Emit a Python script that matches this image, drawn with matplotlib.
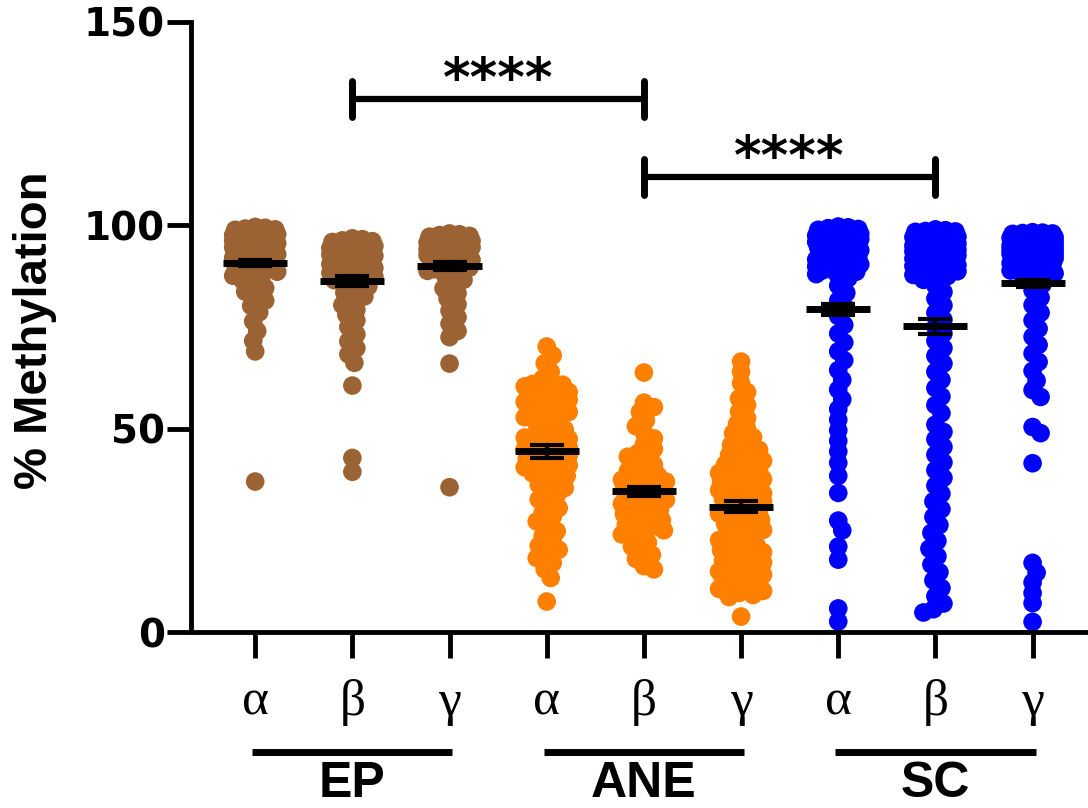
import numpy as np
import matplotlib.pyplot as plt

# % methylation values (one value per dot)
ep_alpha = [99.6, 99.4, 99.2, 99.0, 98.9, 98.7, 98.5, 98.3, 98.2, 98.0,
            97.8, 97.6, 97.5, 97.3, 97.1, 96.9, 96.7, 96.5, 96.4, 96.2,
            96.0, 95.8, 95.6, 95.4, 95.2, 95.0, 94.8, 94.6, 94.3, 94.1,
            93.9, 93.6, 93.4, 93.1, 92.9, 92.6, 92.3, 92.0, 91.7, 91.4,
            91.1, 90.8, 90.5, 90.2, 89.8, 89.4, 89.0, 88.6, 88.1, 87.6,
            87.0, 86.3, 85.5, 84.6, 83.7, 82.6, 81.5, 80.2, 78.6, 76.4,
            74.0, 71.6, 69.0, 37.0]
ep_beta = [96.8, 96.6, 96.3, 96.1, 95.9, 95.6, 95.4, 95.1, 94.9, 94.6,
           94.4, 94.1, 93.9, 93.6, 93.3, 93.0, 92.8, 92.5, 92.2, 91.9,
           91.6, 91.3, 91.0, 90.7, 90.4, 90.1, 89.8, 89.5, 89.2, 88.9,
           88.6, 88.3, 88.0, 87.7, 87.4, 87.0, 95.2, 93.5, 92.0, 90.5,
           89.0, 94.0, 86.5, 85.8, 85.0, 84.2, 83.4, 82.5, 81.5, 80.4,
           79.2, 78.0, 76.6, 75.0, 73.2, 71.5, 69.8, 68.3, 66.2, 60.6,
           42.8, 39.4]
ep_gamma = [98.0, 97.8, 97.6, 97.4, 97.2, 97.0, 96.8, 96.6, 96.4, 96.2,
            96.0, 95.8, 95.5, 95.3, 95.1, 94.8, 94.6, 94.3, 94.1, 93.8,
            93.6, 93.3, 93.0, 92.7, 92.4, 92.1, 91.8, 91.5, 91.2, 90.9,
            90.6, 90.3, 90.0, 89.6, 89.2, 88.8, 96.9, 95.9, 94.5, 92.9,
            88.3, 87.5, 86.6, 85.6, 84.5, 83.3, 82.0, 80.6, 79.0, 77.4,
            75.8, 74.0, 72.5, 66.0, 35.6]
ane_alpha = [70.2, 68.0, 66.1, 64.0, 62.3, 61.5, 61.0, 60.4, 60.0, 59.5,
             59.0, 58.6, 58.1, 57.6, 57.1, 56.6, 56.1, 55.6, 55.1, 54.6,
             54.1, 53.5, 52.8, 52.0, 51.3, 50.5, 49.8, 49.1, 48.5, 48.0,
             47.5, 47.0, 46.6, 46.2, 45.8, 45.4, 45.0, 44.6, 44.2, 43.8,
             43.4, 43.0, 42.6, 42.2, 41.8, 41.4, 41.0, 40.5, 40.0, 39.5,
             39.0, 38.4, 37.8, 37.0, 36.2, 35.4, 34.5, 33.6, 32.6, 31.6,
             30.5, 29.4, 28.3, 27.2, 26.0, 24.8, 23.6, 22.4, 21.2, 20.2,
             19.2, 18.2, 17.0, 15.4, 13.3, 7.5, 60.8, 58.9, 56.3, 54.9,
             47.8, 46.9, 45.2, 57.8, 55.8]
ane_beta = [63.8, 56.4, 55.3, 54.1, 52.0, 50.6, 49.0, 47.6, 46.1, 45.0,
            44.0, 43.1, 42.0, 41.1, 40.0, 39.6, 39.0, 38.5, 38.0, 37.4,
            37.0, 36.5, 36.0, 35.4, 35.0, 34.5, 34.0, 33.5, 33.0, 32.5,
            32.0, 31.5, 31.0, 30.5, 30.0, 29.5, 29.0, 28.4, 28.0, 27.5,
            27.0, 26.4, 26.0, 25.5, 25.0, 24.5, 24.0, 23.0, 22.0, 21.0,
            20.0, 19.0, 18.0, 16.2, 15.4]
ane_gamma = [66.5, 64.0, 61.2, 59.0, 57.4, 55.8, 54.2, 52.6, 51.2, 50.0,
             48.9, 47.9, 46.9, 46.0, 45.1, 44.3, 43.5, 42.8, 42.1, 41.5,
             40.9, 40.3, 39.7, 39.1, 38.6, 38.1, 37.6, 37.1, 36.6, 36.1,
             35.6, 35.1, 34.6, 34.1, 33.6, 33.1, 32.6, 32.1, 31.6, 31.1,
             30.6, 30.1, 29.6, 29.1, 28.6, 28.1, 27.6, 27.1, 26.6, 26.1,
             25.6, 25.1, 24.6, 24.1, 23.6, 23.1, 22.6, 22.1, 21.6, 21.1,
             20.6, 20.1, 19.6, 19.1, 18.6, 18.1, 17.6, 17.1, 16.6, 16.1,
             15.6, 15.1, 14.6, 14.1, 13.6, 13.1, 12.6, 12.1, 11.6, 11.1,
             10.6, 10.1, 9.6, 9.1, 8.6, 3.8, 44.8, 41.2, 38.9, 36.9,
             34.9, 32.9, 19.9, 14.9, 12.9]
sc_alpha = [99.7, 99.5, 99.3, 99.1, 98.9, 98.7, 98.5, 98.3, 98.1, 97.9,
            97.7, 97.5, 97.3, 97.1, 96.9, 96.6, 96.4, 96.2, 95.9, 95.7,
            95.5, 95.2, 95.0, 94.7, 94.5, 94.2, 93.9, 93.7, 93.4, 93.1,
            92.8, 92.5, 92.2, 91.9, 91.6, 91.3, 91.0, 90.7, 90.4, 90.1,
            89.8, 89.5, 89.2, 88.9, 88.6, 88.3, 88.0, 98.6, 97.0, 95.3,
            93.2, 91.5, 89.9, 87.0, 85.2, 83.4, 81.5, 79.6, 77.7, 75.5,
            73.4, 71.2, 69.0, 66.8, 64.4, 62.0, 59.6, 57.2, 54.8, 52.2,
            49.6, 47.0, 44.4, 41.6, 38.4, 34.2, 27.4, 25.0, 21.0, 17.8,
            5.8, 2.6]
sc_beta = [99.0, 98.8, 98.6, 98.4, 98.2, 98.0, 97.8, 97.6, 97.4, 97.2,
           97.0, 96.8, 96.6, 96.4, 96.2, 96.0, 95.8, 95.6, 95.4, 95.2,
           95.0, 94.8, 94.6, 94.4, 94.2, 94.0, 93.8, 93.6, 93.4, 93.2,
           93.0, 92.8, 92.6, 92.4, 92.2, 92.0, 91.8, 91.6, 91.4, 91.2,
           91.0, 90.8, 90.6, 90.4, 90.2, 90.0, 89.8, 89.6, 89.3, 89.0,
           88.7, 88.4, 88.1, 87.8, 87.5, 98.5, 97.9, 97.1, 96.3, 95.5,
           94.7, 93.9, 93.1, 92.3, 91.5, 90.7, 89.9, 98.1, 96.9, 95.1,
           86.6, 85.2, 83.6, 82.0, 80.3, 78.5, 76.8, 75.0, 73.4, 71.6,
           69.8, 67.9, 66.0, 64.0, 62.0, 60.0, 57.9, 55.8, 53.8, 51.0,
           49.2, 47.4, 45.5, 43.6, 41.7, 39.8, 37.9, 36.0, 34.0, 32.1,
           30.2, 28.3, 26.3, 24.4, 22.4, 20.5, 18.6, 16.6, 14.7, 12.7,
           10.8, 8.8, 7.0, 5.6, 4.8]
sc_gamma = [98.3, 98.1, 97.9, 97.7, 97.5, 97.3, 97.1, 96.9, 96.7, 96.5,
            96.3, 96.1, 95.9, 95.7, 95.5, 95.3, 95.1, 94.9, 94.7, 94.5,
            94.3, 94.1, 93.9, 93.7, 93.5, 93.3, 93.1, 92.9, 92.7, 92.5,
            92.3, 92.1, 91.9, 91.6, 91.3, 91.0, 90.7, 90.4, 90.1, 89.7,
            89.3, 88.9, 88.5, 98.2, 97.8, 97.4, 97.0, 96.6, 96.2, 95.8,
            95.4, 95.0, 94.6, 94.2, 93.8, 93.4, 93.0, 92.6, 92.2, 91.8,
            98.0, 97.6, 97.2, 96.8, 96.4, 96.0, 95.6, 95.2, 94.8, 94.4,
            94.0, 93.6, 93.2, 92.8, 92.4, 92.0, 97.3, 96.3, 95.3, 94.3,
            93.3, 92.3, 91.4, 90.5, 89.5, 88.2, 87.5, 86.8, 85.5, 84.0,
            82.2, 80.4, 78.5, 76.6, 74.6, 72.6, 70.6, 68.5, 66.4, 64.2,
            61.8, 59.5, 57.8, 50.4, 48.9, 41.5, 17.0, 14.6, 12.2, 9.6,
            7.1, 2.5]

groups = [ep_alpha, ep_beta, ep_gamma, ane_alpha, ane_beta, ane_gamma,
          sc_alpha, sc_beta, sc_gamma]
# mean and SEM as drawn in the figure
group_means = [90.8, 86.3, 90.0, 44.5, 34.6, 30.8, 79.4, 75.2, 85.7]
group_sems = [0.7, 1.2, 1.0, 1.6, 1.15, 1.35, 1.35, 1.85, 0.9]
subunits = ['α', 'β', 'γ'] * 3
tissues = ['EP', 'ANE', 'SC']
tissue_colors = ['#9b6333', '#ff8000', '#0000ff']
sig_pairs = [(1, 4), (4, 7)]   # compared groups (index into groups)
sig_levels = [131.1, 111.9]
sig_labels = ['****', '****']

fig = plt.figure(figsize=(10.88, 8.08), dpi=100)
ax = fig.add_axes([0.1756, 0.2178, 0.8226, 0.755])
ax.set_xlim(-0.66, 8.55)
ax.set_ylim(0, 150)

# pixel size of one data unit, used for the dot layout
p0 = ax.transData.transform((0, 0))
p1 = ax.transData.transform((1, 1))
px_x, px_y = p1[0] - p0[0], p1[1] - p0[1]


def swarm_offsets(vals, sep=10.0, maxoff=23.0, step=2.0):
    # greedy beeswarm in pixel space, dots allowed to overlap (Prism style)
    vals = np.asarray(vals, float)
    cands = [0.0]
    k = step
    while k <= maxoff:
        cands += [k, -k]
        k += step
    placed = []
    offs = np.zeros(len(vals))
    for i in np.argsort(-vals):
        y = vals[i] * px_y
        best, bestd = 0.0, -1.0
        for c in cands:
            if placed:
                p = np.array(placed)
                d = np.min(np.hypot(p[:, 0] - c, p[:, 1] - y))
            else:
                d = np.inf
            if d >= sep:
                best = c
                break
            if d > bestd:
                best, bestd = c, d
        placed.append((best, y))
        offs[i] = best / px_x
    return offs


for i, vals in enumerate(groups):
    vals = np.asarray(vals, float)
    xs = i + swarm_offsets(vals)
    ax.scatter(xs, vals, s=180, color=tissue_colors[i // 3], edgecolors='none', zorder=2)
    m, sem = group_means[i], group_sems[i]
    ax.plot([i - 0.33, i + 0.33], [m, m], color='black', lw=5,
            solid_capstyle='butt', zorder=4)
    ax.errorbar(i, m, yerr=sem, fmt='none', ecolor='black', elinewidth=3,
                capsize=12.5, capthick=3, zorder=4)

# significance brackets
for (a, b), h, lab in zip(sig_pairs, sig_levels, sig_labels):
    ax.plot([a, b], [h, h], color='black', lw=4.5, solid_capstyle='butt', clip_on=False)
    for xe in (a, b):
        ax.plot([xe, xe], [h - 4.4, h + 4.4], color='black', lw=5,
                solid_capstyle='round', clip_on=False)
    ax.text((a + b) / 2, h + 0.7, lab, ha='center', va='baseline',
            fontsize=38, fontweight='bold', family='DejaVu Sans')

# axes styling
for s in ['top', 'right']:
    ax.spines[s].set_visible(False)
for s in ['left', 'bottom']:
    ax.spines[s].set_linewidth(3.5)
ax.set_yticks([0, 50, 100, 150])
ax.tick_params(axis='y', length=17, width=3.5, pad=2)
ax.tick_params(axis='x', length=18.5, width=3.5)
for t in ax.get_yticklabels():
    t.set_fontfamily('DejaVu Sans')
    t.set_fontweight('bold')
    t.set_fontsize(28)
ax.set_xticks(range(len(groups)))
ax.set_xticklabels([])

# greek subunit labels, tissue underlines and names below the axis
for i, sub in enumerate(subunits):
    ax.text(i, -20.4, sub, ha='center', va='baseline', fontsize=37,
            family='Liberation Serif', clip_on=False)
for j, name in enumerate(tissues):
    c = 3 * j + 1
    ax.plot([c - 1.03, c + 1.03], [-29.5, -29.5], color='black', lw=5,
            solid_capstyle='butt', clip_on=False)
    ax.text(c, -40.6, name, ha='center', va='baseline', fontsize=36,
            fontweight='bold', family='Liberation Sans', clip_on=False)

fig.text(35 / 1088, 1 - 330 / 808, '% Methylation', rotation=90, ha='center',
         va='center', fontsize=34, fontweight='bold', family='Liberation Sans')

fig.savefig('out.png', dpi=100)
